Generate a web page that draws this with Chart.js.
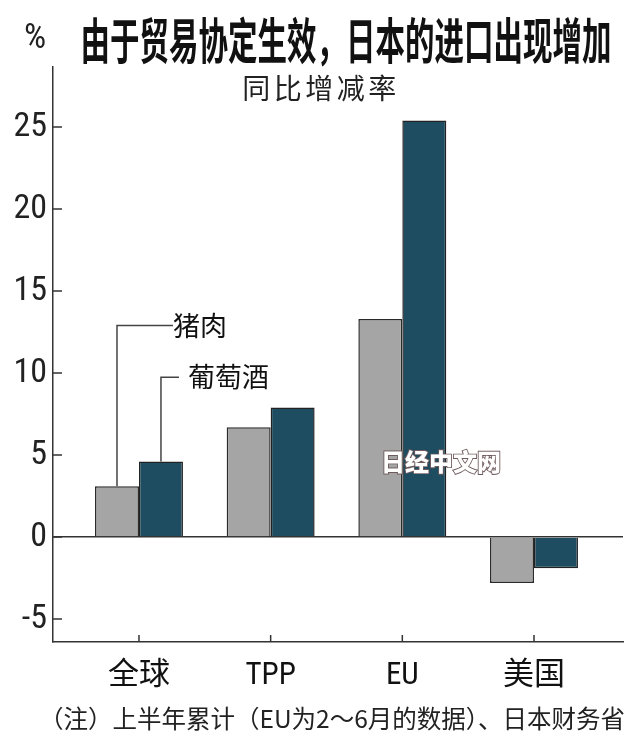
<!DOCTYPE html>
<html>
<head>
<meta charset="utf-8">
<script src="https://cdn.jsdelivr.net/npm/chart.js@4"></script>
<style>
    body { margin: 0; background: #fff; }
    #wrap { position: relative; width: 630px; height: 745px; }
    .txt { position: absolute; white-space: nowrap; color: #111; }
    #pct { left: 24px; top: 19px; font: 35px/1 "Roboto Condensed", sans-serif; color: #222; }
    #title { left: 346px; top: 24px; font: bold 29.5px/1 "Noto Sans CJK SC", sans-serif; transform: translateX(-50%) scaleY(1.65); }
    #subtitle { left: 321px; top: 73px; font: 28px/1 "Noto Sans CJK SC", sans-serif; letter-spacing: 3.5px; transform: translateX(-50%); color: #222; }
    #note { left: 332px; top: 706px; font: 24.5px/1 "Noto Sans CJK SC", sans-serif; transform: translateX(-50%); color: #222; }
    #mark { left: 441px; top: 449px; font: 900 24px/1 "Noto Sans CJK SC", sans-serif; transform: translateX(-50%);
            color: #fff; -webkit-text-stroke: 1.8px #6e5a5c; paint-order: stroke fill; }
</style>
</head>
<body>
<div id="wrap">
    <canvas id="chart" width="630" height="745"></canvas>
    <div class="txt" id="pct">%</div>
    <div class="txt" id="title">由于贸易协定生效，日本的进口出现增加</div>
    <div class="txt" id="subtitle">同比增减率</div>
    <div class="txt" id="note">（注）上半年累计（EU为2～6月的数据）、日本财务省</div>
    <div class="txt" id="mark">日经中文网</div>
</div>
<script>
// data (% change year on year)
const categories = ["全球", "TPP", "EU", "美国"];
const seriesNames = ["猪肉", "葡萄酒"];
const porkValues = [3.1, 6.7, 13.3, -2.8];
const wineValues = [4.6, 7.9, 25.4, -1.9];
const yTickValues = [-5, 0, 5, 10, 15, 20, 25];

const narrowFont = '"Roboto Condensed", "Noto Sans CJK SC", sans-serif';
const axisColor = "#333";

// tick marks drawn on the inside of the axes
const innerTicks = {
    id: "innerTicks",
    afterDraw(chart) {
        const { ctx, scales: { x, y } } = chart;
        ctx.save();
        ctx.strokeStyle = axisColor;
        ctx.lineWidth = 1.5;
        ctx.beginPath();
        y.ticks.forEach(t => {
            const py = y.getPixelForValue(t.value);
            ctx.moveTo(x.left, py);
            ctx.lineTo(x.left + 9, py);
        });
        x.ticks.forEach(t => {
            const px = x.getPixelForValue(t.value);
            ctx.moveTo(px, y.bottom);
            ctx.lineTo(px, y.bottom - 7);
        });
        ctx.stroke();
        ctx.restore();
    }
};

// leader lines from the first pair of bars to the series names
const leaders = {
    id: "leaders",
    afterDatasetsDraw(chart, args, opts) {
        const { ctx, scales: { y } } = chart;
        ctx.save();
        seriesNames.forEach((name, i) => {
            const bar = chart.getDatasetMeta(i).data[0];
            const turnY = y.getPixelForValue(opts.levels[i]);
            ctx.strokeStyle = "#444";
            ctx.lineWidth = 1.5;
            ctx.beginPath();
            ctx.moveTo(bar.x, bar.y);
            ctx.lineTo(bar.x, turnY);
            ctx.lineTo(bar.x + opts.arms[i], turnY);
            ctx.stroke();
            ctx.fillStyle = "#111";
            ctx.font = '27px "Noto Sans CJK SC", sans-serif';
            ctx.textBaseline = "middle";
            ctx.fillText(name, bar.x + opts.textAt[i], turnY);
        });
        ctx.restore();
    }
};

new Chart(document.getElementById("chart"), {
    type: "bar",
    data: {
        datasets: [
            {
                label: seriesNames[0],
                data: porkValues.map((v, i) => ({ x: i, y: v })),
                backgroundColor: "#a5a5a5",
                borderColor: "#2a2a2a",
                borderWidth: 1.5
            },
            {
                label: seriesNames[1],
                data: wineValues.map((v, i) => ({ x: i, y: v })),
                backgroundColor: "#1e4c60",
                borderColor: "#222",
                borderWidth: 1.5
            }
        ]
    },
    options: {
        responsive: false,
        animation: false,
        devicePixelRatio: 1,
        categoryPercentage: 0.668,
        barPercentage: 1,
        layout: { padding: { top: 67, right: 7, left: 0, bottom: 0 } },
        scales: {
            x: {
                type: "linear",
                offset: false,
                min: -0.653,
                max: 3.676,
                afterBuildTicks: s => { s.ticks = categories.map((c, i) => ({ value: i })); },
                afterFit: s => { s.height = 103; },
                ticks: {
                    callback: v => categories[v],
                    color: "#111",
                    padding: 8,
                    font: { family: narrowFont, size: 31 }
                },
                grid: { display: false, offset: false },
                border: { color: axisColor, width: 1.5 }
            },
            y: {
                min: -6.4,
                max: 28.66,
                afterBuildTicks: s => { s.ticks = yTickValues.map(v => ({ value: v })); },
                afterFit: s => { s.width = 53; },
                ticks: {
                    color: "#222",
                    padding: 6,
                    font: { family: narrowFont, size: 34 }
                },
                grid: {
                    drawTicks: false,
                    lineWidth: 1.5,
                    color: c => (c.tick && c.tick.value === 0 ? axisColor : "rgba(0,0,0,0)")
                },
                border: { color: axisColor, width: 1.5 }
            }
        },
        plugins: {
            legend: { display: false },
            tooltip: { enabled: false },
            leaders: { levels: [12.9, 9.75], arms: [56, 18], textAt: [56, 27] }
        }
    },
    plugins: [innerTicks, leaders]
});
</script>
</body>
</html>
